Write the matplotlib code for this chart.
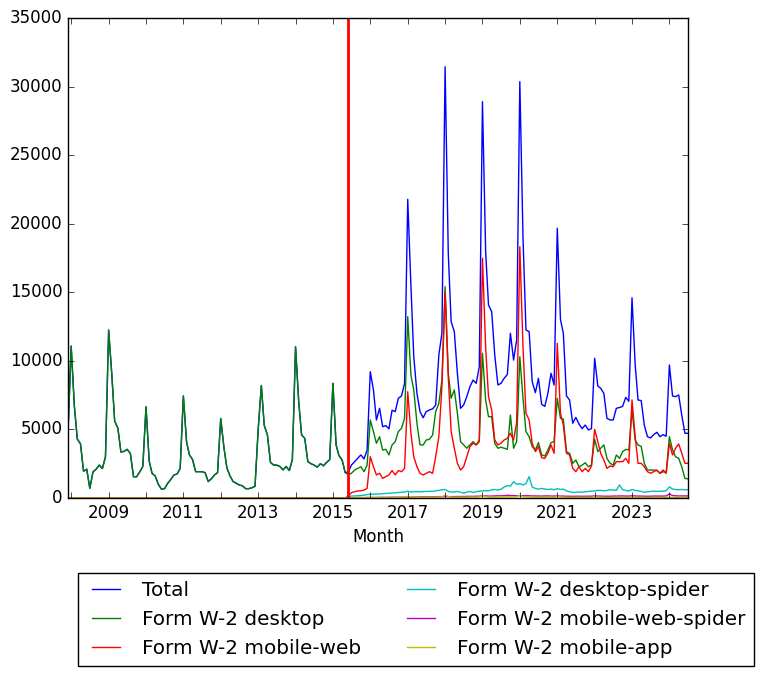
import pandas as pd
import matplotlib
matplotlib.use("Agg")
import matplotlib.pyplot as plt
import matplotlib.dates as mdates
from matplotlib.ticker import FixedLocator

# Monthly page views, Dec 2007 - Jul 2024
MONTHS = pd.date_range("2007-12-01", "2024-07-01", freq="MS")
SPLIT_DATE = pd.Timestamp("2015-06-01")

# Before the split everything was counted as desktop (Dec 2007 - May 2015)
pre_split = [
    4800, 11080, 6700, 4300, 3950, 1950, 2100, 700, 1900, 2100, 2400, 2150, 3000,
    12250, 9000, 5600, 5100, 3350, 3400, 3550, 3250, 1550, 1550, 1900, 2300,
    6650, 2700, 1800, 1600, 1000, 650, 680, 1070, 1360, 1680, 1750, 2160,
    7440, 4100, 3150, 2800, 1920, 1920, 1920, 1850, 1200, 1400, 1680, 1850,
    5800, 3700, 2200, 1600, 1200, 1070, 950, 880, 680, 680, 750, 850,
    5000, 8200, 5300, 4600, 2600, 2400, 2400, 2300, 2050, 2300, 2000, 2800,
    11030, 7000, 4600, 4350, 2650, 2500, 2400, 2250, 2500, 2350, 2600, 2800,
    8360, 3870, 3100, 2770, 1850,
]

# From Jun 2015 on
total_post = [
    1900,
    2400, 2650, 2890, 3140, 2850, 3500,
    9210, 7880, 5690, 6540, 5200, 5280, 5040, 6400, 6300, 7270, 7440, 8360,
    21780, 15500, 10300, 7630, 6300, 5850, 6300, 6420, 6500, 6780, 10430, 12010,
    31450, 17840, 12860, 12130, 9090, 6540, 6780, 7390, 8120, 8600, 8360, 9580,
    28900, 18000, 14070, 13590, 10430, 8240, 8360, 8730, 9000, 12010, 10060, 11520,
    30360, 19000, 12250, 12130, 8480, 7680, 8730, 6830, 6680, 7630, 9090, 8240,
    19670, 13030, 12010, 7440, 7150, 5450, 5880, 5400, 5060, 5320, 4960, 5060,
    10190, 8170, 8000, 7630, 5810, 5690, 5690, 6540, 6600, 6680, 7340, 7050,
    14600, 9700, 7150, 7100, 5320, 4470, 4380, 4620, 4790, 4470, 4620, 4500,
    9700, 7440, 7390, 7510, 6050, 4720, 4720,
]

desktop_post = [
    1700,
    1800, 2040, 2160, 2280, 1920, 2400,
    5690, 4840, 3990, 4470, 3500, 3550, 3140, 3870, 4110, 4840, 5080, 5810,
    13220, 8970, 7880, 5450, 3870, 3870, 4230, 4280, 4590, 6300, 6900, 8600,
    15410, 9090, 7270, 7880, 6180, 4110, 3870, 3630, 3870, 4110, 3870, 4230,
    10550, 7150, 5930, 5930, 3990, 3630, 3700, 3630, 3550, 6050, 3630, 4110,
    10300, 7270, 4840, 4470, 3750, 3500, 4040, 3140, 3060, 3500, 4040, 4110,
    7270, 5810, 5750, 3380, 3260, 2530, 2770, 2280, 2400, 2570, 2280, 2400,
    4280, 3380, 3630, 3870, 2890, 2530, 2400, 3140, 2890, 3380, 3550, 3500,
    6420, 4230, 3870, 3750, 2530, 2040, 2040, 2040, 2000, 1800, 1920, 1850,
    4470, 3500, 3010, 2890, 2280, 1430, 1390,
]

mobile_web_post = [
    150,
    390, 460, 510, 530, 580, 700,
    3010, 2280, 1680, 1800, 1430, 1560, 1680, 2000, 1680, 2000, 1920, 2160,
    7750, 4720, 3010, 2280, 1800, 1680, 1800, 1920, 1800, 3010, 4470, 8120,
    15050, 8850, 4840, 3630, 2530, 2040, 2280, 3010, 3750, 3990, 3870, 4110,
    17480, 11000, 7390, 6420, 4230, 3870, 3990, 4230, 4350, 4720, 4230, 5500,
    18320, 11030, 6180, 5690, 3990, 3380, 3750, 2940, 2890, 3260, 3870, 3260,
    11280, 6180, 5320, 3260, 3140, 2160, 1920, 2280, 1920, 2160, 1920, 2330,
    5000, 4110, 3260, 2770, 2160, 2330, 2280, 2650, 2650, 2650, 2890, 2530,
    7150, 4470, 2530, 2530, 2280, 1920, 1800, 1920, 2040, 1800, 2040, 1800,
    3990, 3140, 3620, 3940, 3260, 2530, 2530,
]

desktop_spider_post = [
    50,
    150, 150, 160, 180, 200, 250,
    270, 280, 300, 290, 320, 330, 350, 370, 380, 400, 420, 430,
    500, 430, 470, 460, 450, 470, 480, 490, 480, 520, 560, 600,
    620, 480, 440, 430, 480, 420, 350, 430, 480, 400, 460, 490,
    520, 540, 520, 600, 620, 580, 640, 800, 900, 870, 1190, 1000,
    1050, 950, 1050, 1560, 800, 700, 650, 700, 650, 620, 650, 600,
    680, 620, 650, 520, 450, 400, 420, 430, 420, 450, 480, 500,
    520, 550, 560, 520, 550, 600, 580, 560, 950, 600, 550, 520,
    620, 560, 520, 480, 420, 450, 480, 500, 480, 500, 500, 520,
    820, 650, 620, 600, 620, 600, 600,
]

mobile_web_spider_post = [
    0,
    20, 20, 30, 30, 30, 40,
    40, 40, 40, 50, 50, 50, 50, 60, 60, 60, 60, 70,
    80, 70, 70, 70, 80, 80, 80, 90, 90, 90, 100, 100,
    110, 100, 100, 100, 110, 110, 110, 120, 120, 120, 130, 130,
    180, 150, 140, 140, 150, 160, 160, 170, 200, 180, 170, 160,
    180, 170, 160, 160, 150, 150, 140, 140, 150, 150, 140, 140,
    150, 140, 140, 130, 130, 120, 130, 130, 120, 130, 130, 130,
    150, 140, 140, 130, 130, 130, 140, 140, 150, 150, 140, 140,
    160, 150, 140, 140, 130, 130, 130, 140, 140, 140, 140, 150,
    300, 180, 160, 150, 150, 150, 150,
]

mobile_app_post = [
    0,
    10, 10, 20, 20, 20, 20,
    20, 30, 30, 30, 30, 30, 40, 40, 40, 40, 40, 50,
    120, 60, 50, 50, 50, 50, 50, 60, 60, 60, 70, 80,
    200, 100, 70, 60, 60, 60, 60, 60, 70, 70, 70, 80,
    180, 90, 70, 70, 70, 70, 70, 80, 80, 80, 80, 90,
    200, 100, 80, 70, 60, 60, 60, 60, 60, 60, 60, 60,
    110, 70, 60, 50, 50, 50, 50, 50, 50, 50, 50, 50,
    80, 60, 50, 50, 40, 40, 40, 40, 40, 40, 40, 40,
    70, 50, 40, 40, 40, 40, 40, 40, 40, 40, 40, 40,
    60, 40, 40, 40, 40, 40, 40,
]

SERIES = [
    ("Total", pre_split + total_post),
    ("Form W-2 desktop", pre_split + desktop_post),
    ("Form W-2 mobile-web", [0] * len(pre_split) + mobile_web_post),
    ("Form W-2 desktop-spider", [0] * len(pre_split) + desktop_spider_post),
    ("Form W-2 mobile-web-spider", [0] * len(pre_split) + mobile_web_spider_post),
    ("Form W-2 mobile-app", [0] * len(pre_split) + mobile_app_post),
]

# labelled ticks on odd years, plain ticks on the even ones
LABEL_YEARS = pd.date_range("2009-01-01", "2023-01-01", freq="24MS")
PLAIN_YEARS = pd.date_range("2008-01-01", "2024-01-01", freq="24MS")


def main():
    plt.style.use("classic")

    fig = plt.figure(figsize=(7.67, 6.79), dpi=100, facecolor="white")
    ax = fig.add_axes([68 / 767, 1 - 498 / 679, 620 / 767, 480 / 679])

    for label, values in SERIES:
        ax.plot(MONTHS, values, label=label)

    ax.axvline(SPLIT_DATE, color="r", linewidth=2)

    ax.set_xlim(MONTHS[0], MONTHS[-1])
    ax.set_ylim(0, 35000)
    ax.xaxis.set_major_locator(FixedLocator(mdates.date2num(LABEL_YEARS)))
    ax.xaxis.set_minor_locator(FixedLocator(mdates.date2num(PLAIN_YEARS)))
    ax.xaxis.set_major_formatter(mdates.DateFormatter("%Y"))
    ax.tick_params(axis="x", which="minor", size=4)
    ax.set_xlabel("Month")

    fig.legend(loc="upper left", bbox_to_anchor=(78 / 767, 1 - 573 / 679),
               borderaxespad=0, ncol=2)

    fig.savefig("out.png", dpi=100, facecolor="white")


if __name__ == "__main__":
    main()
